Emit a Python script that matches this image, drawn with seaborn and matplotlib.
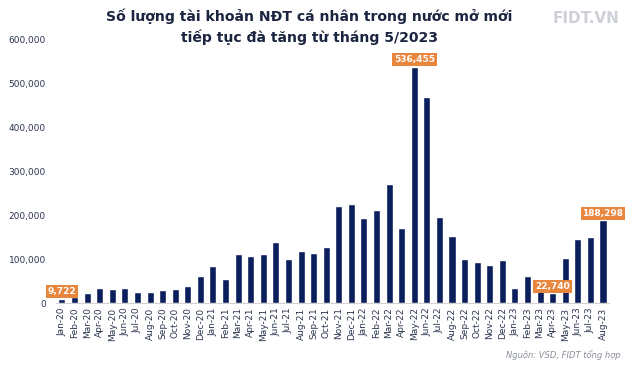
import pandas as pd
import numpy as np
import matplotlib
matplotlib.use("Agg")
import matplotlib.pyplot as plt
import seaborn as sns

months = ["Jan-20", "Feb-20", "Mar-20", "Apr-20", "May-20", "Jun-20", "Jul-20", "Aug-20",
          "Sep-20", "Oct-20", "Nov-20", "Dec-20", "Jan-21", "Feb-21", "Mar-21", "Apr-21",
          "May-21", "Jun-21", "Jul-21", "Aug-21", "Sep-21", "Oct-21", "Nov-21", "Dec-21",
          "Jan-22", "Feb-22", "Mar-22", "Apr-22", "May-22", "Jun-22", "Jul-22", "Aug-22",
          "Sep-22", "Oct-22", "Nov-22", "Dec-22", "Jan-23", "Feb-23", "Mar-23", "Apr-23",
          "May-23", "Jun-23", "Jul-23", "Aug-23"]
accounts = [9722, 14000, 23000, 34000, 33500, 34000, 25000, 26000,
            29500, 32000, 38600, 61000, 84000, 54500, 111000, 108000,
            113000, 139000, 100000, 118000, 114000, 128500, 220000, 226000,
            193000, 211000, 271000, 170000, 536455, 468000, 195000, 152000,
            100700, 94600, 87000, 97700, 34000, 62000, 30000, 22740,
            104000, 145000, 150000, 188298]
highlights = {"Jan-20": "9,722", "May-22": "536,455", "Apr-23": "22,740", "Aug-23": "188,298"}

df = pd.DataFrame({"month": months, "accounts": accounts})

navy = "#0b1f5c"
orange = "#e8863e"
text_col = "#2b3550"

sns.set_style("white")
plt.rcParams["font.family"] = ["DejaVu Sans"]

fig = plt.figure(figsize=(6.4, 3.65), dpi=100)
ax = fig.add_axes([0.087, 0.169, 0.865, 0.724])

sns.barplot(data=df, x="month", y="accounts", color=navy, width=0.56,
            saturation=1, ax=ax)

ax.set_ylim(0, 600000)
ax.set_xlim(-0.5, len(months) - 0.5)
ax.set_yticks(np.arange(0, 600001, 100000))
ax.set_yticklabels([f"{int(v):,}" for v in np.arange(0, 600001, 100000)],
                   fontsize=6.5, color=text_col)
ax.set_xticks(range(len(months)))
ax.set_xticklabels(months, rotation=90, fontsize=6.5, color=text_col)
ax.set_xticks(np.arange(-0.5, len(months), 1), minor=True)
ax.tick_params(axis="x", which="major", length=0, pad=3)
ax.tick_params(axis="x", which="minor", length=2.5, color="#c8c8c8", width=0.6)
ax.tick_params(axis="y", length=0, pad=7)
ax.set_xlabel("")
ax.set_ylabel("")
for s in ["top", "right", "left"]:
    ax.spines[s].set_visible(False)
ax.spines["bottom"].set_color("#c8c8c8")
ax.spines["bottom"].set_linewidth(0.6)

for i, m in enumerate(months):
    if m in highlights:
        ax.annotate(highlights[m], xy=(i, accounts[i]), xytext=(0, 2),
                    textcoords="offset points", ha="center", va="bottom",
                    fontsize=6.5, fontweight="bold", color="white",
                    bbox=dict(boxstyle="square,pad=0.22", fc=orange, ec="none"))

fig.text(0.483, 0.978, "Số lượng tài khoản NĐT cá nhân trong nước mở mới\ntiếp tục đà tăng từ tháng 5/2023",
         ha="center", va="top", fontsize=10.1, fontweight="bold", color="#1c2540",
         linespacing=1.45)
fig.text(0.915, 0.95, "FIDT.VN", ha="center", va="center", fontsize=11,
         fontweight="bold", color="#cdd0d6")
fig.text(0.969, 0.027, "Nguồn: VSD, FIDT tổng hợp", ha="right", va="center",
         fontsize=6, style="italic", color="#8a8f99")

fig.savefig("out.png", dpi=100)
